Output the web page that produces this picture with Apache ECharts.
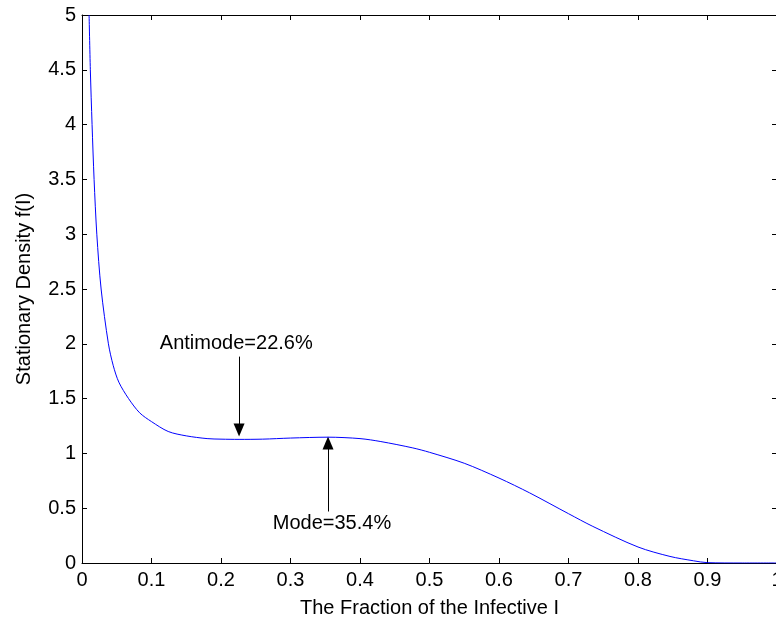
<!DOCTYPE html>
<html>
<head>
<meta charset="utf-8">
<script src="https://cdn.jsdelivr.net/npm/echarts@6/dist/echarts.min.js"></script>
<style>
html,body{margin:0;padding:0;background:#fff;}
#chart{width:776px;height:622px;}
</style>
</head>
<body>
<div id="chart"></div>
<script>
// Fraction of infective I (x) and stationary density f(I) (y)
const fractionI = [0.0102, 0.012, 0.0145, 0.0174, 0.0213, 0.0275, 0.038, 0.045, 0.053, 0.067, 0.083, 0.1, 0.124, 0.15, 0.18, 0.2, 0.226, 0.26, 0.3, 0.354, 0.4, 0.43, 0.476, 0.5, 0.55, 0.6, 0.644, 0.7, 0.735, 0.8, 0.846, 0.88, 0.9, 0.95, 1.0];
const densityF = [5.0, 4.5, 4.0, 3.5, 3.0, 2.5, 2.0, 1.8, 1.65, 1.5, 1.37, 1.29, 1.2, 1.16, 1.135, 1.13, 1.128, 1.13, 1.14, 1.148, 1.135, 1.108, 1.05, 1.01, 0.91, 0.775, 0.64, 0.45, 0.334, 0.146, 0.06, 0.02, 0.003, 0, 0];

// Annotations: [x of arrow, arrow tail y, arrowhead centre y]
const antimodeArrow = [0.226, 1.883, 1.213];
const modeArrow = [0.354, 0.47, 1.095];
const antimodeText = "Antimode=22.6%";
const modeText = "Mode=35.4%";
const antimodeLabelAt = [0.112, 2.0];
const modeLabelAt = [0.2745, 0.365];

const xTickLabels = ["0","0.1","0.2","0.3","0.4","0.5","0.6","0.7","0.8","0.9","1"];
const yTickLabels = ["0","0.5","1","1.5","2","2.5","3","3.5","4","4.5","5"];
const xTitle = "The Fraction of the Infective I";
const yTitle = "Stationary Density f(I)";

const FONT = "Liberation Sans, Arial, sans-serif";
const FS = 20;
const lineSeries = fractionI.map((x, i) => [x, densityF[i]]);

const axisCommon = {
  axisLine: {show: true, onZero: false, lineStyle: {color: '#000', width: 1}},
  axisTick: {show: true, inside: true, length: 5, lineStyle: {color: '#000', width: 1}},
  splitLine: {show: false}
};

const chart = echarts.init(document.getElementById('chart'), null, {renderer: 'canvas'});
chart.setOption({
  animation: false,
  backgroundColor: '#ffffff',
  grid: {left: 82, top: 15, width: 695, height: 548, containLabel: false, outerBoundsMode: 'none'},
  xAxis: [
    Object.assign({
      type: 'value', min: 0, max: 1, interval: 0.1, position: 'bottom',
      axisLabel: {show: true, margin: 7, color: '#000', fontFamily: FONT, fontSize: FS,
        showMinLabel: true, showMaxLabel: true,
        formatter: v => xTickLabels[Math.round(v * 10)]},
      name: xTitle, nameLocation: 'middle', nameGap: 35,
      nameTextStyle: {color: '#000', fontFamily: FONT, fontSize: FS, verticalAlign: 'top'}
    }, axisCommon),
    Object.assign({
      type: 'value', min: 0, max: 1, interval: 0.1, position: 'top',
      axisLabel: {show: false}
    }, axisCommon)
  ],
  yAxis: [
    Object.assign({
      type: 'value', min: 0, max: 5, interval: 0.5, position: 'left',
      axisLabel: {show: true, margin: 6, color: '#000', fontFamily: FONT, fontSize: FS,
        formatter: v => yTickLabels[Math.round(v * 2)]},
      name: yTitle, nameLocation: 'middle', nameGap: 48, nameRotate: 90,
      nameTextStyle: {color: '#000', fontFamily: FONT, fontSize: FS}
    }, axisCommon),
    Object.assign({
      type: 'value', min: 0, max: 5, interval: 0.5, position: 'right',
      axisLabel: {show: false}
    }, axisCommon)
  ],
  series: [
    {
      type: 'line',
      data: lineSeries,
      xAxisIndex: 0, yAxisIndex: 0,
      showSymbol: false, symbol: 'none',
      smooth: 0.3,
      lineStyle: {color: '#0000ff', width: 1},
      clip: true, z: 5,
      markLine: {
        silent: true,
        symbol: ['none', 'triangle'],
        symbolSize: [11, 13],
        lineStyle: {color: '#000', width: 1, type: 'solid'},
        label: {show: false},
        data: [
          [{coord: [antimodeArrow[0], antimodeArrow[1]]}, {coord: [antimodeArrow[0], antimodeArrow[2]]}],
          [{coord: [modeArrow[0], modeArrow[1]]}, {coord: [modeArrow[0], modeArrow[2]]}]
        ],
        itemStyle: {color: '#000'}
      },
      markPoint: {
        silent: true,
        symbol: 'circle', symbolSize: 0,
        data: [
          {coord: antimodeLabelAt, label: {formatter: antimodeText}},
          {coord: modeLabelAt, label: {formatter: modeText}}
        ],
        label: {show: true, position: 'right', distance: 0, color: '#000', fontFamily: FONT, fontSize: FS}
      }
    }
  ]
});
</script>
</body>
</html>
